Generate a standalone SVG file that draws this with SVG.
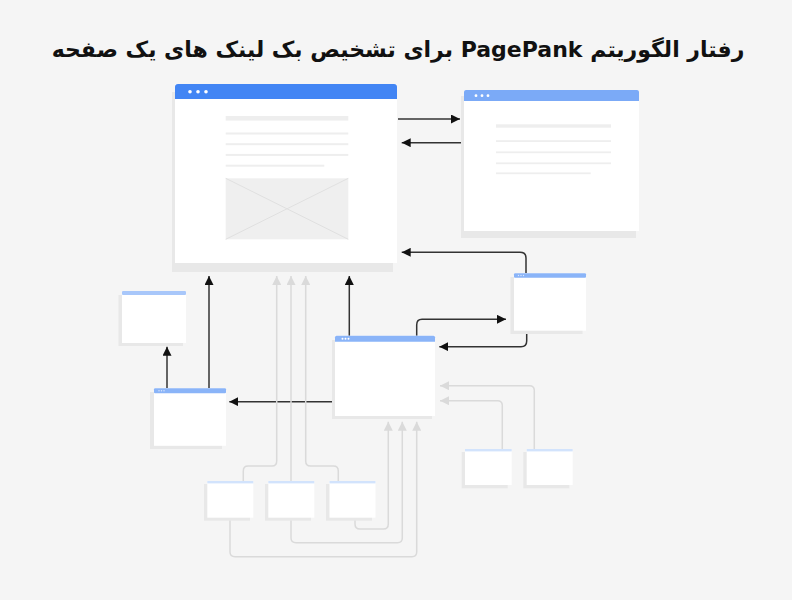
<svg xmlns="http://www.w3.org/2000/svg" width="792" height="600" viewBox="0 0 792 600">
<defs>
<style>
.shadow{fill:#e8e8e8}
.body{fill:#ffffff}
.h1{fill:#4285f4}
.h2{fill:#7baaf7}
.h3{fill:#8ab4f8}
.h4{fill:#a8c7fa}
.h5{fill:#d2e3fc}
.dot{fill:#ffffff}
.tl{fill:#eeeeee}
.dark{fill:none;stroke:#333333;stroke-width:1.5;marker-end:url(#ad)}
.light{fill:none;stroke:#dadada;stroke-width:1.5;marker-end:url(#al)}
.title{font-family:"DejaVu Sans","Noto Sans",sans-serif;font-weight:bold;font-size:22px;fill:#111111}
</style>
<marker id="ad" viewBox="0 0 10 10" refX="10" refY="5" markerWidth="9" markerHeight="9" markerUnits="userSpaceOnUse" orient="auto">
<path d="M0,0 L10,5 L0,10 z" fill="#111111"/>
</marker>
<marker id="al" viewBox="0 0 10 10" refX="10" refY="5" markerWidth="9" markerHeight="9" markerUnits="userSpaceOnUse" orient="auto">
<path d="M0,0 L10,5 L0,10 z" fill="#dadada"/>
</marker>
</defs>
<rect x="0" y="0" width="792" height="600" fill="#f5f5f5"/>
<text class="title" x="398" y="57" text-anchor="middle" direction="rtl">رفتار الگوریتم PagePank برای تشخیص بک لینک های یک صفحه</text>

<g id="connectors">
<path class="dark" d="M398 119 H460"/>
<path class="dark" d="M464 142.7 H401.7"/>
<path class="dark" d="M526 273 V258 Q526 252.3 520 252.3 H401.7"/>
<path class="dark" d="M209 388 V276"/>
<path class="dark" d="M349.3 336 V276"/>
<path class="dark" d="M167 388 V346.7"/>
<path class="dark" d="M335 401.7 H229.3"/>
<path class="dark" d="M416.7 336 V325 Q416.7 319.3 422 319.3 H506"/>
<path class="dark" d="M526.7 331 V341 Q526.7 346.7 521 346.7 H439.3"/>
<path class="light" d="M243.3 481 V471 Q243.3 466 248 466 H272 Q276.7 466 276.7 461 V276"/>
<path class="light" d="M291 481 V276"/>
<path class="light" d="M338.3 481 V471 Q338.3 466 333.5 466 H310.5 Q305.7 466 305.7 461 V276"/>
<path class="light" d="M230 518 V552 Q230 556.7 235 556.7 H412 Q416.7 556.7 416.7 552 V421.7"/>
<path class="light" d="M291 518 V538 Q291 542.7 296 542.7 H397.5 Q402.3 542.7 402.3 538 V421.7"/>
<path class="light" d="M355 518 V524 Q355 529 360 529 H383.5 Q388.3 529 388.3 524 V421.7"/>
<path class="light" d="M534.3 449 V390.5 Q534.3 385.7 529.5 385.7 H440"/>
<path class="light" d="M502.3 449 V405.5 Q502.3 400.7 497.5 400.7 H440"/>
</g>

<g id="main-page">
<rect class="shadow" x="172" y="92" width="221" height="180"/>
<rect class="body" x="175" y="84" width="222" height="179"/>
<path class="h1" d="M175 99 V87 Q175 84 178 84 H394 Q397 84 397 87 V99 Z"/>
<circle class="dot" cx="190" cy="91.7" r="1.8"/>
<circle class="dot" cx="198" cy="91.7" r="1.8"/>
<circle class="dot" cx="206" cy="91.7" r="1.8"/>
<rect class="tl" x="225.7" y="116" width="122.6" height="4.6"/>
<rect class="tl" x="225.7" y="132.5" width="122.6" height="2"/>
<rect class="tl" x="225.7" y="143.2" width="122.6" height="2"/>
<rect class="tl" x="225.7" y="153.9" width="122.6" height="2"/>
<rect class="tl" x="225.7" y="164.7" width="98.6" height="2"/>
<rect x="225.7" y="178.3" width="122.6" height="61" fill="#efefef"/>
<path d="M225.7 178.3 L348.3 239.3 M348.3 178.3 L225.7 239.3" stroke="#e0e0e0" stroke-width="1" fill="none"/>
</g>

<g id="page-2">
<rect class="shadow" x="461" y="96" width="175" height="142"/>
<rect class="body" x="464" y="90" width="175" height="141"/>
<path class="h2" d="M464 101 V92 Q464 90 466 90 H637 Q639 90 639 92 V101 Z"/>
<circle class="dot" cx="476" cy="95.7" r="1.4"/>
<circle class="dot" cx="482" cy="95.7" r="1.4"/>
<circle class="dot" cx="488" cy="95.7" r="1.4"/>
<rect class="tl" x="496" y="124.3" width="115" height="3.4"/>
<rect class="tl" x="496" y="140.2" width="115" height="1.8"/>
<rect class="tl" x="496" y="151.4" width="115" height="1.8"/>
<rect class="tl" x="496" y="162.4" width="115" height="1.8"/>
<rect class="tl" x="496" y="172.4" width="94.7" height="1.8"/>
</g>

<g id="page-top-left">
<rect class="shadow" x="118.5" y="295" width="64.5" height="51"/>
<rect class="body" x="122" y="291" width="64" height="52"/>
<rect class="h4" x="122" y="291" width="64" height="4" rx="1"/>
</g>

<g id="page-left">
<rect class="shadow" x="150" y="392" width="72" height="57"/>
<rect class="body" x="154" y="388.3" width="72" height="57.5"/>
<rect class="h3" x="154" y="388.3" width="72" height="5" rx="1"/>
<circle class="dot" cx="159" cy="390.8" r="0.7" opacity="0.7"/>
<circle class="dot" cx="161.5" cy="390.8" r="0.7" opacity="0.7"/>
<circle class="dot" cx="164" cy="390.8" r="0.7" opacity="0.7"/>
</g>

<g id="page-center">
<rect class="shadow" x="332" y="340" width="100" height="79"/>
<rect class="body" x="335" y="335.7" width="100" height="80.3"/>
<path class="h3" d="M335 341.7 V337.2 Q335 335.7 336.5 335.7 H433.5 Q435 335.7 435 337.2 V341.7 Z"/>
<circle class="dot" cx="342.5" cy="338.7" r="1"/>
<circle class="dot" cx="345.5" cy="338.7" r="1"/>
<circle class="dot" cx="348.5" cy="338.7" r="1"/>
</g>

<g id="page-right">
<rect class="shadow" x="510.5" y="277" width="72" height="57"/>
<rect class="body" x="514" y="273.3" width="72" height="57.4"/>
<rect class="h3" x="514" y="273.3" width="72" height="4.5" rx="1"/>
<circle class="dot" cx="518.5" cy="275.5" r="0.7" opacity="0.7"/>
<circle class="dot" cx="521" cy="275.5" r="0.7" opacity="0.7"/>
<circle class="dot" cx="523.5" cy="275.5" r="0.7" opacity="0.7"/>
</g>

<g id="page-bottom-1">
<rect class="shadow" x="204" y="484" width="46" height="36.7"/>
<rect class="body" x="207.3" y="481" width="46" height="36.7"/>
<rect class="h5" x="207.3" y="481" width="46" height="2.4"/>
</g>
<g id="page-bottom-2">
<rect class="shadow" x="265" y="484" width="46" height="36.7"/>
<rect class="body" x="268.3" y="481" width="46" height="36.7"/>
<rect class="h5" x="268.3" y="481" width="46" height="2.4"/>
</g>
<g id="page-bottom-3">
<rect class="shadow" x="326" y="484" width="46" height="36.7"/>
<rect class="body" x="329.5" y="481" width="46" height="36.7"/>
<rect class="h5" x="329.5" y="481" width="46" height="2.4"/>
</g>
<g id="page-bottom-right-1">
<rect class="shadow" x="461.7" y="452" width="46" height="36.3"/>
<rect class="body" x="465" y="449" width="46.7" height="36"/>
<rect class="h5" x="465" y="449" width="46.7" height="2.4"/>
</g>
<g id="page-bottom-right-2">
<rect class="shadow" x="523.3" y="452" width="46" height="36.3"/>
<rect class="body" x="526.7" y="449" width="46" height="36"/>
<rect class="h5" x="526.7" y="449" width="46" height="2.4"/>
</g>
</svg>
